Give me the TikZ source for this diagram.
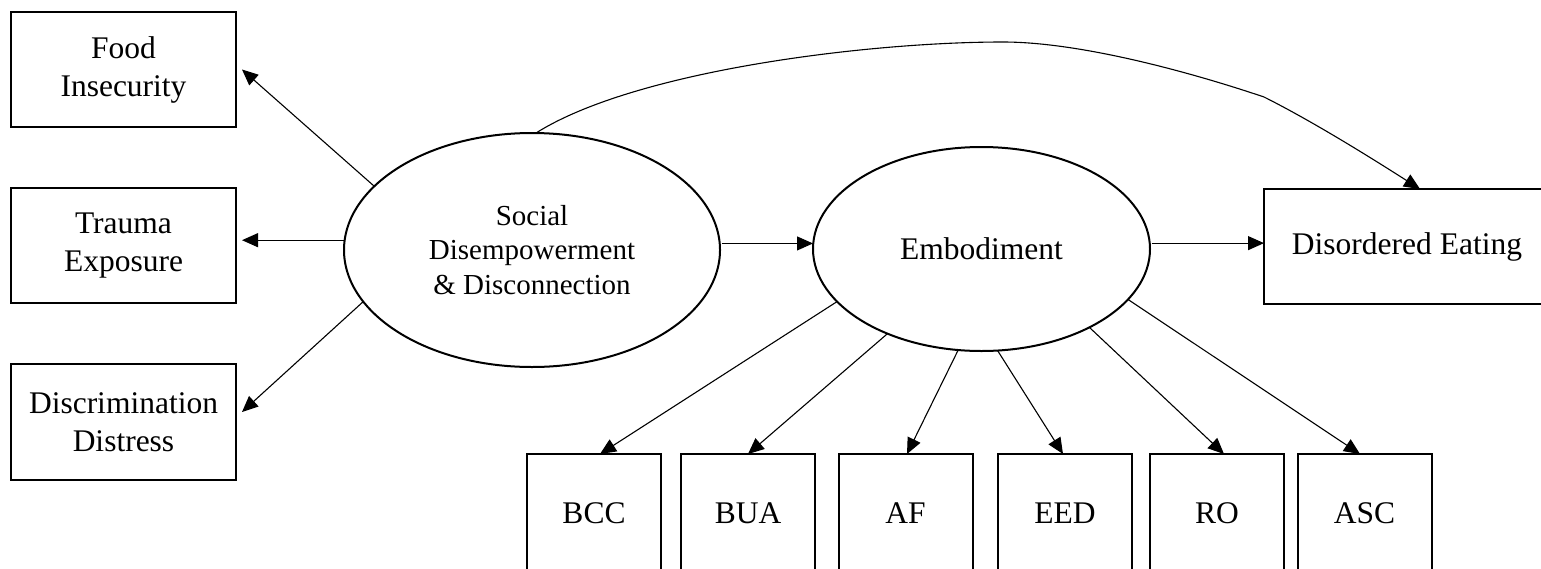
\documentclass[tikz,border=0pt]{standalone}
\usepackage{fontspec}
\setmainfont{Liberation Serif}
\usetikzlibrary{arrows.meta,shapes.geometric}
\begin{document}
\begin{tikzpicture}[x=1pt,y=-1pt,
  box/.style={draw, line width=2pt, rectangle, inner sep=0pt, outer sep=0pt, align=center,
    font=\fontsize{31.5}{38}\selectfont},
  latent/.style={draw, line width=2pt, ellipse, inner sep=0pt, outer sep=0pt, align=center,
    font=\fontsize{31.5}{38}\selectfont},
  arr/.style={line width=1.1pt, -{Triangle[length=16pt,width=14pt]}}]
\useasboundingbox[fill=white] (0,0) rectangle (1541,568);
% left indicator boxes
\node[box, minimum width=225pt, minimum height=115pt] (food) at (123.5,69.5) {Food\\Insecurity};
\node[box, minimum width=225pt, minimum height=115pt] (trauma) at (123.5,245.5) {Trauma\\Exposure};
\node[box, minimum width=225pt, minimum height=116pt] (disc) at (123.5,422) {Discrimination\\Distress};
% latent variables
\node[latent, minimum width=376pt, minimum height=234pt,
  font=\fontsize{29}{34.5}\selectfont] (soc) at (532,250) {Social\\Disempowerment\\\& Disconnection};
\node[latent, minimum width=337pt, minimum height=204pt] (emb) at (981.5,249) {Embodiment};
% outcome
\node[box, minimum width=286pt, minimum height=115pt] (de) at (1407,246.5) {Disordered Eating};
% embodiment indicators (lower edge runs past the picture)
\begin{scope}[every node/.append style={minimum width=134pt, minimum height=124pt,
    text height=24pt, text depth=10pt}]
\node[box] (bcc) at (594,516) {BCC};
\node[box] (bua) at (748,516) {BUA};
\node[box] (af) at (905.5,516) {AF};
\node[box] (eed) at (1065,516) {EED};
\node[box] (ro) at (1217,516) {RO};
\node[box] (asc) at (1364.5,516) {ASC};
\end{scope}
% arrows from social disempowerment
\draw[arr] (soc.158.5) -- ([xshift=6pt]food.east);
\draw[arr, shorten >=6pt] (soc.177.3) -- (soc.177.3 -| trauma.east);
\draw[arr] (soc.197.6) -- ([xshift=6pt,yshift=10pt]disc.east);
\draw[arr, shorten <=2pt] (soc.2.5) -- (soc.2.5 -| emb.west);
\draw[arr, shorten <=2pt] (emb.2.4) -- (emb.2.4 -| de.west);
% arrows from embodiment
\draw[arr] (emb.200.6) -- ([xshift=6pt]bcc.north);
\draw[arr] (emb.222) -- (bua.north);
\draw[arr] (emb.257.4) -- ([xshift=1.5pt]af.north);
\draw[arr] (emb.279.8) -- ([xshift=-2pt]eed.north);
\draw[arr] (emb.324) -- ([xshift=7pt]ro.north);
\draw[arr] (emb.341) -- ([xshift=-4.5pt]asc.north);
% direct path
\draw[arr] ([xshift=4pt]soc.north) .. controls (636,70) and (870,42) .. (1003,42)
  .. controls (1080,42) and (1190,72) .. (1264,97)
  .. controls (1320,125) and (1390,170) .. ([xshift=13pt]de.north);
\end{tikzpicture}
\end{document}
